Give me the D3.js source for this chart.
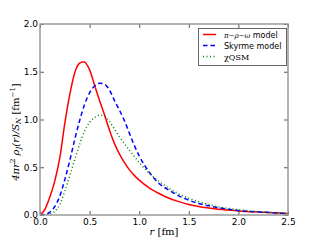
<!DOCTYPE html>
<html><head><meta charset="utf-8">
<script src="https://cdn.jsdelivr.net/npm/d3@7"></script>
<style>body{margin:0;background:#fff}svg{display:block}</style>
</head><body>
<svg id="c" width="320" height="240"></svg>
<script>
const rRed = [0,0.05,0.1,0.15,0.2,0.25,0.3,0.35,0.4,0.44,0.5,0.55,0.6,0.65,0.7,0.75,0.8,0.85,0.9,0.95,1.0,1.1,1.2,1.3,1.4,1.5,1.6,1.8,2.0,2.2,2.5];
const vRed = [0,0.06,0.19,0.36,0.60,0.96,1.26,1.49,1.59,1.605,1.52,1.36,1.20,1.05,0.89,0.75,0.64,0.55,0.475,0.415,0.365,0.285,0.225,0.175,0.14,0.11,0.088,0.06,0.043,0.031,0.016];
const rBlue = [0,0.05,0.1,0.15,0.2,0.25,0.3,0.35,0.4,0.45,0.5,0.55,0.6,0.65,0.7,0.75,0.8,0.85,0.9,0.95,1.0,1.1,1.2,1.3,1.4,1.5,1.6,1.7,1.8,2.0,2.2,2.5];
const vBlue = [0,0.005,0.03,0.09,0.2,0.37,0.57,0.79,0.99,1.16,1.28,1.35,1.38,1.37,1.31,1.20,1.10,0.99,0.86,0.73,0.62,0.45,0.33,0.26,0.20,0.155,0.12,0.096,0.077,0.047,0.032,0.015];
const rGreen = [0,0.05,0.1,0.15,0.2,0.25,0.3,0.35,0.4,0.45,0.5,0.55,0.6,0.65,0.7,0.75,0.8,0.9,1.0,1.1,1.2,1.3,1.4,1.5,1.6,1.8,2.0,2.2,2.5];
const vGreen = [0,0,0.01,0.04,0.11,0.25,0.41,0.58,0.74,0.88,0.97,1.02,1.045,1.035,0.98,0.90,0.82,0.68,0.55,0.44,0.35,0.28,0.22,0.175,0.14,0.085,0.055,0.036,0.018];
const xTicks = [0,0.5,1.0,1.5,2.0,2.5];
const yTicks = [0,0.5,1.0,1.5,2.0];

const svg = d3.select("#c");
const L=40,R=288,T=24,B=215;
const x = d3.scaleLinear().domain([0,2.5]).range([L,R]);
const y = d3.scaleLinear().domain([0,2.0]).range([B,T]);

svg.append("clipPath").attr("id","cl").append("rect")
  .attr("x",L).attr("y",T).attr("width",R-L).attr("height",B-T);

const line = d3.line().x(d=>x(d[0])).y(d=>y(d[1])).curve(d3.curveMonotoneX);
const series = [
  {r:rRed,v:vRed,c:"#ff0000",dash:null},
  {r:rBlue,v:vBlue,c:"#0000ff",dash:"4.5,3"},
  {r:rGreen,v:vGreen,c:"#008000",dash:"1,2.5"}
];
const g = svg.append("g").attr("clip-path","url(#cl)");
series.forEach(s=>{
  g.append("path").datum(s.r.map((r,i)=>[r,s.v[i]]))
   .attr("d",line).attr("fill","none").attr("stroke",s.c)
   .attr("stroke-width",1.5).attr("stroke-dasharray",s.dash);
});

const tickStyle = sel=>{sel.select(".domain").remove();sel.selectAll("line").attr("stroke","#555");};
svg.append("g").attr("transform",`translate(0,${B})`)
  .call(d3.axisBottom(x).tickValues(xTicks).tickSize(-4).tickPadding(4).tickFormat(d3.format(".1f")))
  .call(tickStyle);
svg.append("g").attr("transform",`translate(0,${T})`)
  .call(d3.axisTop(x).tickValues(xTicks).tickSize(-4).tickFormat(""))
  .call(tickStyle);
svg.append("g").attr("transform",`translate(${L},0)`)
  .call(d3.axisLeft(y).tickValues(yTicks).tickSize(-4).tickPadding(2).tickFormat(d3.format(".1f")))
  .call(tickStyle);
svg.append("g").attr("transform",`translate(${R},0)`)
  .call(d3.axisRight(y).tickValues(yTicks).tickSize(-4).tickFormat(""))
  .call(tickStyle);
svg.selectAll(".tick text").attr("font-family","DejaVu Sans").attr("font-size",9).attr("fill","#000");

svg.append("rect").attr("x",L).attr("y",T).attr("width",R-L).attr("height",B-T)
  .attr("fill","none").attr("stroke","#999").attr("stroke-width",1.5);

const xl = svg.append("text").attr("x",(L+R)/2).attr("y",235).attr("text-anchor","middle")
  .attr("font-family","DejaVu Serif").attr("font-size",10);
xl.append("tspan").attr("font-style","italic").text("r");
xl.append("tspan").text(" [fm]");

const yl = svg.append("text").attr("transform","translate(19,132) rotate(-90)").attr("text-anchor","middle")
  .attr("font-family","DejaVu Serif").attr("font-size",10);
yl.append("tspan").attr("font-style","italic").text("4πr");
yl.append("tspan").attr("font-size",7).attr("dy",-4).text("2");
yl.append("tspan").attr("dy",4).attr("font-style","italic").text(" ρ");
yl.append("tspan").attr("font-size",7).attr("font-style","italic").attr("dy",2).text("J");
yl.append("tspan").attr("dy",-2).attr("font-style","italic").text("(r)/S");
yl.append("tspan").attr("font-size",7).attr("font-style","italic").attr("dy",2).text("N");
yl.append("tspan").attr("dy",-2).text(" [fm");
yl.append("tspan").attr("font-size",7).attr("dy",-4).text("−1");
yl.append("tspan").attr("dy",4).text("]");

const lg = svg.append("g");
lg.append("rect").attr("x",198.5).attr("y",28.5).attr("width",88).attr("height",37)
  .attr("fill","#fff").attr("stroke","#666").attr("stroke-width",1);
const labels = [["π−ρ−ω"," model"],["","Skyrme model"],["χQSM",""]];
series.forEach((s,i)=>{
  const yy = 34.5+i*11;
  lg.append("line").attr("x1",203).attr("x2",216).attr("y1",yy).attr("y2",yy)
    .attr("stroke",s.c).attr("stroke-width",1.5).attr("stroke-dasharray",s.dash);
  const t = lg.append("text").attr("x",224).attr("y",yy+3).attr("font-size",8).attr("font-family","DejaVu Sans");
  if(labels[i][0]) t.append("tspan").attr("font-family","DejaVu Serif").attr("font-style", i===0?"italic":"normal").attr("font-size",i===0?7:8).text(labels[i][0]);
  if(labels[i][1]) t.append("tspan").text(labels[i][1]);
});
</script>
</body></html>
